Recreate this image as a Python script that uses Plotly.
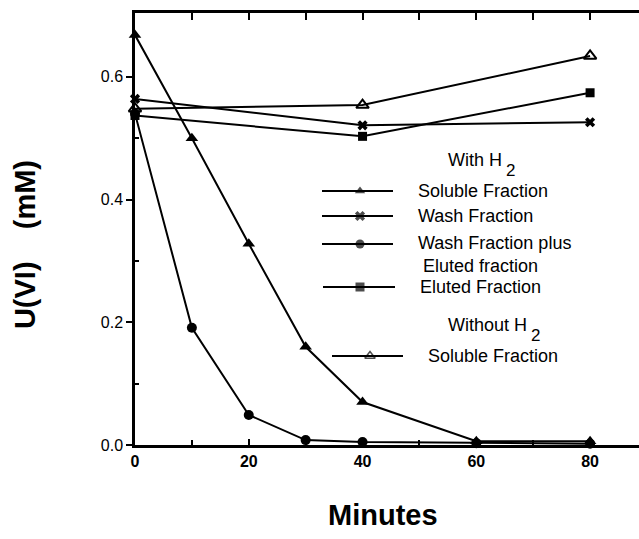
import plotly.graph_objects as go

# ---- data ----
sol_h2_x = [0, 10, 20, 30, 40, 60, 80]
sol_h2_y = [0.668, 0.500, 0.328, 0.160, 0.070, 0.006, 0.006]

wash_x = [0, 40, 80]
wash_y = [0.564, 0.521, 0.526]

wash_plus_x = [0, 10, 20, 30, 40, 60, 80]
wash_plus_y = [0.540, 0.191, 0.049, 0.008, 0.005, 0.003, 0.002]

eluted_x = [0, 40, 80]
eluted_y = [0.537, 0.503, 0.574]

sol_noh2_x = [0, 40, 80]
sol_noh2_y = [0.548, 0.554, 0.634]

x_tickvals = [0, 20, 40, 60, 80]
x_ticktext = ["0", "20", "40", "60", "80"]
x_minorvals = [10, 30, 50, 70]
x_topvals = [10, 20, 30, 40, 50, 60, 70, 80]
y_tickvals = [0.0, 0.2, 0.4, 0.6]
y_ticktext = ["0.0", "0.2", "0.4", "0.6"]
y_minorvals = [0.1, 0.3, 0.5]

legend_labels = ["Soluble Fraction", "Wash Fraction", "Wash Fraction plus<br> Eluted fraction",
                 "Eluted Fraction", "Soluble Fraction"]

FONT = "Liberation Sans, Arial, Helvetica, sans-serif"
LW = 2
XRANGE = [0, 88.6]

fig = go.Figure()

series = [
    (sol_h2_x, sol_h2_y, "triangle-up", 11),
    (wash_x, wash_y, "x", 9),
    (wash_plus_x, wash_plus_y, "circle", 10),
    (eluted_x, eluted_y, "square", 9),
    (sol_noh2_x, sol_noh2_y, "triangle-up-open", 11),
]
for xs, ys, sym, sz in series:
    fig.add_trace(go.Scatter(
        x=xs, y=ys, mode="lines+markers",
        line=dict(color="black", width=LW),
        marker=dict(symbol=sym, size=sz, color="black",
                    line=dict(color="black", width=2 if "open" in sym else 0)),
        cliponaxis=False, showlegend=False, hoverinfo="skip"))

# empty trace so the top tick axis is registered
fig.add_trace(go.Scatter(x=[], y=[], xaxis="x3", yaxis="y", showlegend=False,
                         hoverinfo="skip"))

# ---- hand-drawn legend on an overlay axis (pixel-like coordinates) ----
leg_rows = [  # (x0, xm, x1, y, symbol, size, text_x)
    (322, 360, 393, 191, "triangle-up", 9, 416),
    (322, 360, 393, 216, "x", 9, 416),
    (322, 360, 393, 244, "circle", 9, 416),
    (323, 360, 395, 287, "square", 9, 418),
    (332, 370, 403, 356, "triangle-up-open", 9, 426),
]
for (x0, xm, x1, yy, sym, sz, tx), lab in zip(leg_rows, legend_labels):
    fig.add_trace(go.Scatter(
        x=[x0, xm, x1], y=[yy, yy, yy], mode="lines+markers",
        xaxis="x2", yaxis="y2",
        line=dict(color="black", width=LW),
        marker=dict(symbol=sym, size=[0, sz, 0], color="black",
                    line=dict(color="black", width=1.5 if "open" in sym else 0)),
        showlegend=False, hoverinfo="skip"))
    two_line = "<br>" in lab
    fig.add_annotation(x=tx, y=yy, xref="x2", yref="y2", text=lab,
                       showarrow=False, xanchor="left",
                       yanchor="top" if two_line else "middle",
                       yshift=13 if two_line else 0,
                       align="left",
                       font=dict(family=FONT, size=18, color="black"))

# headers: "H" then a lowered "2"
for txt, xx, yy, x2, y2 in [("With H", 446, 160, 510, 170), ("Without H", 446, 325, 535, 335)]:
    fig.add_annotation(x=xx, y=yy, xref="x2", yref="y2", text=txt, showarrow=False,
                       xanchor="left", yanchor="middle",
                       font=dict(family=FONT, size=18, color="black"))
    fig.add_annotation(x=x2, y=y2, xref="x2", yref="y2", text="2", showarrow=False,
                       xanchor="center", yanchor="middle",
                       font=dict(family=FONT, size=17, color="black"))

# axis titles (paper coordinates)
fig.add_annotation(x=0.492, y=-0.162, xref="paper", yref="paper", text="<b>Minutes</b>",
                   showarrow=False, xanchor="center", yanchor="middle",
                   font=dict(family=FONT, size=29, color="black"))
fig.add_annotation(x=-0.218, y=0.463, xref="paper", yref="paper",
                   text="<b>U(VI)\u00a0\u00a0\u00a0\u00a0(mM)</b>", textangle=-90,
                   showarrow=False, xanchor="center", yanchor="middle",
                   font=dict(family=FONT, size=29, color="black"))

fig.update_layout(
    width=639, height=539,
    margin=dict(l=135, r=0, t=13, b=94),
    paper_bgcolor="white", plot_bgcolor="white",
    showlegend=False,
    xaxis=dict(
        range=XRANGE, tickvals=x_tickvals, ticktext=x_ticktext,
        ticks="inside", ticklen=6, tickwidth=2, tickcolor="black",
        minor=dict(tickvals=x_minorvals, ticks="inside", ticklen=5,
                   tickwidth=2, tickcolor="black"),
        showline=True, linecolor="black", linewidth=2.5, mirror=True,
        showgrid=False, zeroline=False,
        tickfont=dict(family=FONT, size=16, color="black", weight="bold"),
    ),
    xaxis3=dict(
        range=XRANGE, overlaying="x", side="top", anchor="y",
        tickvals=x_topvals, showticklabels=False,
        ticks="inside", ticklen=7, tickwidth=2, tickcolor="black",
        showline=False, showgrid=False, zeroline=False, fixedrange=True,
    ),
    yaxis=dict(
        range=[0, 0.704], tickvals=y_tickvals, ticktext=y_ticktext,
        ticks="outside", ticklen=6, tickwidth=2, tickcolor="black",
        minor=dict(tickvals=y_minorvals, ticks="inside", ticklen=4,
                   tickwidth=2, tickcolor="black"),
        showline=True, linecolor="black", linewidth=2.5,
        showgrid=False, zeroline=False,
        tickfont=dict(family=FONT, size=16, color="black"),
    ),
    xaxis2=dict(range=[135, 639], overlaying="x", visible=False, fixedrange=True),
    yaxis2=dict(range=[445, 13], overlaying="y", visible=False, fixedrange=True),
)

fig.write_html("out.html")
